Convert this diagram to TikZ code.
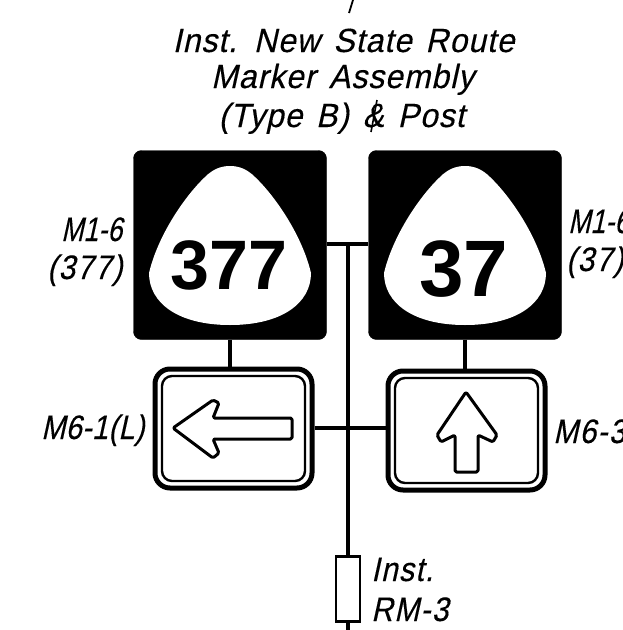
\documentclass[tikz,border=0pt]{standalone}
\usepackage{fontspec}
\setmainfont{Liberation Sans}
\newfontfamily\lbl{Liberation Sans}[FakeSlant=0.22,FakeStretch=0.85,FakeBold=0.25,LetterSpace=1]
\newfontfamily\lblnarrow{Liberation Sans}[FakeSlant=0.22,FakeStretch=0.78,FakeBold=0.25,LetterSpace=0.5]
\newfontfamily\lblwide{Liberation Sans}[FakeSlant=0.22,FakeStretch=0.88,FakeBold=0.25,LetterSpace=4]
\newfontfamily\ttlfont{Liberation Sans}[FakeSlant=0.22,FakeStretch=0.95,FakeBold=0.25,LetterSpace=3,WordSpace=1.4]
\newcommand{\shieldpath}[1]{%
  (#1,166) .. controls (#1-9,166) and (#1-17,169) .. (#1-25,177)
  .. controls (#1-45,196) and (#1-72,235) .. (#1-81,273)
  .. controls (#1-81,303) and (#1-52,325) .. (#1,325)
  .. controls (#1+52,325) and (#1+81,303) .. (#1+81,273)
  .. controls (#1+72,235) and (#1+45,196) .. (#1+25,177)
  .. controls (#1+17,169) and (#1+9,166) .. (#1,166) -- cycle}
\tikzset{
  x=1pt,y=-1pt,
  blacksign/.style={draw=black,fill=black,rounded corners=8pt,minimum width=193pt,minimum height=189pt,inner sep=0pt},
  whitesign/.style={draw=black,line width=5pt,fill=white,rounded corners=15pt,minimum width=157pt,minimum height=119pt,inner sep=0pt},
  innerframe/.style={draw=black,line width=2.4pt,fill=white,rounded corners=10pt,minimum width=143pt,minimum height=105pt,inner sep=0pt},
  post/.style={draw=black,line width=4.5pt},
  arm/.style={draw=black,line width=4pt},
  arrowsym/.style={draw=black,line width=3pt,line join=round,fill=white,rounded corners=1.5pt},
  lab/.style={font=\fontsize{34}{34}\selectfont\lbl,inner sep=0pt,anchor=base west},
  labnarrow/.style={font=\fontsize{34}{34}\selectfont\lblnarrow,inner sep=0pt,anchor=base west},
  labwide/.style={font=\fontsize{34}{34}\selectfont\lblwide,inner sep=0pt,anchor=base west},
  ttl/.style={font=\fontsize{33.5}{33.5}\selectfont\ttlfont,inner sep=0pt,anchor=base},
  num/.style={font=\fontsize{70}{70}\selectfont\bfseries,inner sep=0pt,anchor=base},
  numbig/.style={font=\fontsize{80}{80}\selectfont\bfseries,inner sep=0pt,anchor=base},
  rmbox/.style={draw=black,line width=2.5pt,fill=white,minimum width=24pt,minimum height=65pt,inner sep=0pt}
}
\begin{document}
\begin{tikzpicture}
\useasboundingbox[fill=white] (0,0) rectangle (622,630);
% named positions
\coordinate (top) at (348,244);
\coordinate (mid) at (348,428);
\coordinate (foot) at (348,630);
\coordinate (lead1) at (353,0);
\coordinate (lead2) at (349,13);
\coordinate (and1) at (377,100);
\coordinate (and2) at (371,132);
% signs
\node[blacksign] (signL) at (230,245) {};
\node[blacksign] (signR) at (465,245) {};
\node[whitesign] (arrowL) at (233.5,428.5) {};
\node[whitesign] (arrowR) at (466.5,430.5) {};
\node[innerframe] (frameL) at (arrowL) {};
\node[innerframe] (frameR) at (arrowR) {};
\node[rmbox] (rm) at (348,589) {};
% connectors
\draw[post] (top) -- (rm.north);
\draw[post] (rm.south) -- (foot);
\draw[arm] (signL.east |- top) -- (signR.west |- top);
\draw[arm] (arrowL.east |- mid) -- (arrowR.west |- mid);
\draw[post] (signL.south) -- (signL.south |- arrowL.north);
\draw[post] (signR.south) -- (signR.south |- arrowR.north);
\draw[line width=1.8pt] (lead1) -- (lead2);
% shields
\fill[white] \shieldpath{230};
\fill[white] \shieldpath{465};
\node[num] (n1) at (229,289.5) {377};
\node[numbig] (n2) at (463.5,296) {37};
% arrows
\draw[arrowsym] (173,428) -- (213,400) -- (219,403) -- (213,418) -- (292,418) -- (292,439) -- (213,439) -- (219,453) -- (213,458) -- cycle;
\draw[arrowsym] (466,392) -- (437,435) -- (441,442) -- (455,435) -- (455,472) -- (478,472) -- (478,435) -- (493,442) -- (497,435) -- cycle;
% labels
\node[ttl] (t1) at (343.5,52) {Inst. New State Route};
\node[ttl] (t2) at (342.5,88) {Marker Assembly};
\node[ttl] (t3) at (341.5,127) {(Type B) \& Post};
\draw[line width=1.6pt] (and1) -- (and2);
\node[labnarrow] (l1) at (61,241) {M1-6};
\node[labwide] (l2) at (47,279) {(377)};
\node[labnarrow] (l3) at (568,233) {M1-6};
\node[labwide] (l4) at (566,271) {(37)};
\node[lab] (l5) at (41,439) {M6-1(L)};
\node[labwide] (l6) at (553,443) {M6-3};
\node[labwide] (l7) at (371,581) {Inst.};
\node[labwide] (l8) at (371,621) {RM-3};
\end{tikzpicture}
\end{document}
